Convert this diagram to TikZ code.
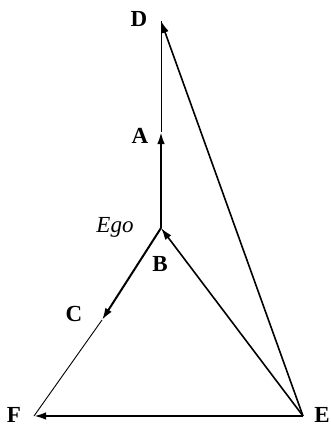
\documentclass[tikz,border=0pt]{standalone}
\usepackage{fontspec}
\setmainfont{Liberation Serif}
\usetikzlibrary{arrows.meta}

\begin{document}
\begin{tikzpicture}[
  x=1pt,y=-1pt,
  lbl/.style={font=\fontsize{23}{25}\selectfont\bfseries,inner sep=0pt},
  egolbl/.style={font=\fontsize{23}{25}\selectfont\itshape,inner sep=0pt},
  arr/.style={-{Latex[length=12pt,width=7.5pt]},line width=1.6pt},
  thin/.style={line width=0.9pt},
  fat/.style={arr,line width=2pt}
]
\useasboundingbox (0,0) rectangle (330,426);
% points of the figure
\coordinate (ego) at (161,228);
\coordinate (a) at (161,132);
\coordinate (d) at (161,21);
\coordinate (c) at (102,320);
\coordinate (f) at (34,416);
\coordinate (e) at (303,416);
% labels
\node[lbl] (dl) at (139,19) {D};
\node[lbl] (al) at (140,136) {A};
\node[egolbl] (egol) at (115,227) {Ego};
\node[lbl] (bl) at (160,264) {B};
\node[lbl] (cl) at (74,314) {C};
\node[lbl] (fl) at (14,415) {F};
\node[lbl] (el) at (322,415) {E};
% edges
\draw[fat] (ego) -- (a);
\draw[thin] (a) -- (d);
\draw[fat] (ego) -- (c);
\draw[thin] (c) -- (f);
\draw[arr] (e) -- (d);
\draw[arr] (e) -- (ego);
\draw[fat] (e) -- (f);
\end{tikzpicture}
\end{document}
